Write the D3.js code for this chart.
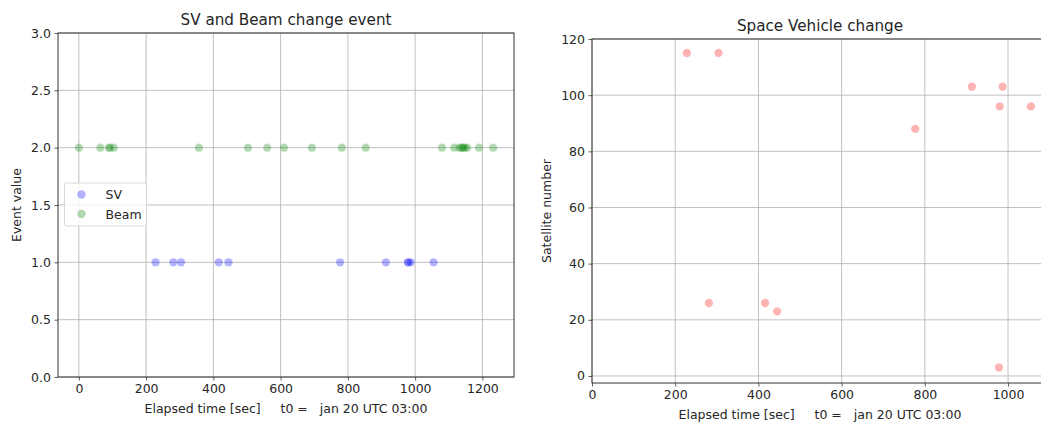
<!DOCTYPE html>
<html>
<head>
<meta charset="utf-8">
<script src="https://cdn.jsdelivr.net/npm/d3@7"></script>
<style>
  body { margin: 0; background: #fff; }
  text { font-family: "DejaVu Sans", sans-serif; fill: #262626; }
</style>
</head>
<body>
<script>
// data
const svTimes = [228, 281, 304, 416, 445, 777, 913, 978, 980, 987, 1055];
const svNumbers = [115, 26, 115, 26, 23, 88, 103, 3, 96, 103, 96];
const beamTimes = [0, 64, 89, 93, 104, 357, 503, 560, 610, 693, 782, 853,
  1080, 1116, 1131, 1136, 1140, 1143, 1148, 1155, 1190, 1232];
const svEventValue = 1;
const beamEventValue = 2;
const leftYTicks = [0, 0.5, 1, 1.5, 2, 2.5, 3];
const leftXTicks = [0, 200, 400, 600, 800, 1000, 1200];
const rightYTicks = [0, 20, 40, 60, 80, 100, 120];
const rightXTicks = [0, 200, 400, 600, 800, 1000];
const xLabel = "Elapsed time [sec]     t0 =   jan 20 UTC 03:00";

const W = 1041, H = 426;
const svg = d3.select("body").append("svg")
  .attr("width", W).attr("height", H);

const gridCol = "#b0b0b0";
const spineCol = "#333";
const fs = 12.5, titleFs = 15.2;

function drawAxes(o) {
  const g = svg.append("g");
  const x = d3.scaleLinear().domain(o.xd).range([o.l, o.r]);
  const y = d3.scaleLinear().domain(o.yd).range([o.b, o.t]);
  // grid
  g.selectAll(".gx").data(o.xt).enter().append("line")
    .attr("x1", d => x(d)).attr("x2", d => x(d))
    .attr("y1", o.t).attr("y2", o.b)
    .attr("stroke", gridCol).attr("stroke-width", 0.8);
  g.selectAll(".gy").data(o.yt).enter().append("line")
    .attr("x1", o.l).attr("x2", o.r)
    .attr("y1", d => y(d)).attr("y2", d => y(d))
    .attr("stroke", gridCol).attr("stroke-width", 0.8);
  // axes
  g.append("g").attr("transform", `translate(0,${o.b})`)
    .call(d3.axisBottom(x).tickValues(o.xt).tickSize(3.5).tickPadding(3.5)
      .tickFormat(o.xf))
    .call(a => a.select(".domain").remove())
    .selectAll("text").attr("font-size", fs).attr("font-family", "DejaVu Sans").attr("fill", "#262626");
  g.append("g").attr("transform", `translate(${o.l},0)`)
    .call(d3.axisLeft(y).tickValues(o.yt).tickSize(3.5).tickPadding(3.5)
      .tickFormat(o.yf))
    .call(a => a.select(".domain").remove())
    .selectAll("text").attr("font-size", fs).attr("font-family", "DejaVu Sans").attr("fill", "#262626");
  g.selectAll(".tick line").attr("stroke", spineCol).attr("stroke-width", 0.8);
  g.append("rect")
    .attr("x", o.l).attr("y", o.t)
    .attr("width", o.r - o.l).attr("height", o.b - o.t)
    .attr("fill", "none").attr("stroke", spineCol).attr("stroke-width", 1);
  // title & labels
  g.append("text").attr("x", (o.l + o.r) / 2).attr("y", o.t - 8)
    .attr("text-anchor", "middle").attr("font-size", titleFs).text(o.title);
  g.append("text").attr("x", (o.l + o.r) / 2).attr("y", o.b + 36)
    .attr("text-anchor", "middle").attr("font-size", fs)
    .style("white-space", "pre").text(xLabel);
  g.append("text")
    .attr("transform", `translate(${o.yl},${(o.t + o.b) / 2}) rotate(-90)`)
    .attr("text-anchor", "middle").attr("font-size", fs).text(o.ylabel);
  return { g, x, y };
}

// left chart
const left = drawAxes({
  l: 58, r: 514, t: 33, b: 377,
  xd: [-62, 1294], yd: [0, 3],
  xt: leftXTicks, yt: leftYTicks,
  xf: d3.format("d"), yf: d3.format(".1f"),
  title: "SV and Beam change event", ylabel: "Event value", yl: 21
});

const svColor = "blue", beamColor = "green";

left.g.append("g").selectAll("circle").data(svTimes).enter().append("circle")
  .attr("cx", d => left.x(d)).attr("cy", left.y(svEventValue)).attr("r", 4.2)
  .attr("fill", svColor).attr("fill-opacity", 0.3)
  .attr("stroke", "#fff").attr("stroke-opacity", 0.3).attr("stroke-width", 0.6);
left.g.append("g").selectAll("circle").data(beamTimes).enter().append("circle")
  .attr("cx", d => left.x(d)).attr("cy", left.y(beamEventValue)).attr("r", 4.2)
  .attr("fill", beamColor).attr("fill-opacity", 0.3)
  .attr("stroke", "#fff").attr("stroke-opacity", 0.3).attr("stroke-width", 0.6);

// legend
const legend = left.g.append("g").attr("transform", "translate(64.5,183)");
legend.append("rect").attr("width", 82).attr("height", 43).attr("rx", 2)
  .attr("fill", "#fff").attr("fill-opacity", 0.8)
  .attr("stroke", "#d9d9d9").attr("stroke-width", 1);
[["SV", svColor], ["Beam", beamColor]].forEach(([name, c], i) => {
  legend.append("circle").attr("cx", 17).attr("cy", 11.5 + i * 19.5).attr("r", 4.2)
    .attr("fill", c).attr("fill-opacity", 0.3);
  legend.append("text").attr("x", 41).attr("y", 16 + i * 19.5)
    .attr("font-size", fs).text(name);
});

// right chart
const right = drawAxes({
  l: 592, r: 1048, t: 39, b: 383,
  xd: [0, 1096], yd: [-2.5, 120],
  xt: rightXTicks, yt: rightYTicks,
  xf: d3.format("d"), yf: d3.format("d"),
  title: "Space Vehicle change", ylabel: "Satellite number", yl: 551
});

right.g.append("g").selectAll("circle").data(svTimes).enter().append("circle")
  .attr("cx", d => right.x(d)).attr("cy", (d, i) => right.y(svNumbers[i])).attr("r", 4.2)
  .attr("fill", "red").attr("fill-opacity", 0.3)
  .attr("stroke", "#fff").attr("stroke-opacity", 0.3).attr("stroke-width", 0.6);
</script>
</body>
</html>
